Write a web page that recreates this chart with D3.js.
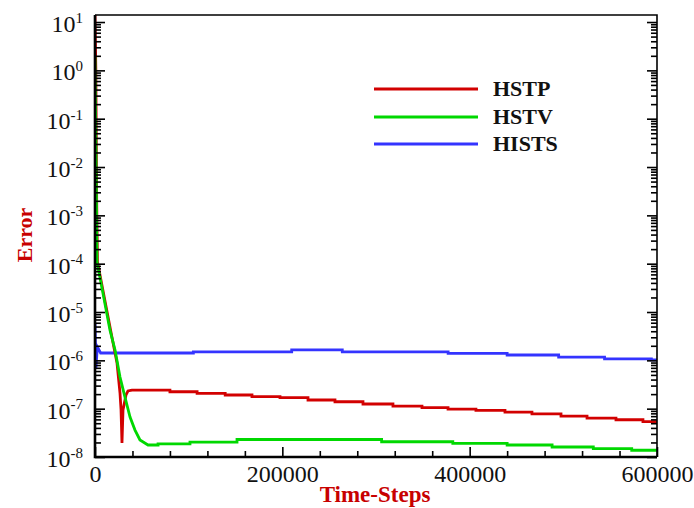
<!DOCTYPE html>
<html lang="en">
<head>
    <meta charset="UTF-8">
    <script src="https://d3js.org/d3.v7.min.js"></script>
    <title>Error vs Time-Steps</title>
    <style>
        body { margin: 0; background: white; }
        svg { display: block; }
        .lbl { font-family: "Liberation Serif", "Times New Roman", serif; }
    </style>
</head>
<body>
    <div id="chart"></div>
    <script>
        // series data: [time-step, error]  (steps kept as pairs)
        const seriesNames = ["HSTP", "HSTV", "HISTS"];
        const seriesColors = ["#d20000", "#00d800", "#3434ff"];

        const hstp = [
            [0, 14], [900, 1], [1800, 2e-3], [2600, 1.1e-4], [18100, 3.0e-6], [23500, 8.8e-7],
            [26700, 2.1e-7], [27800, 9.4e-8], [28800, 1.95e-8], [29900, 9.4e-8], [33100, 1.92e-7],
            [35200, 2.32e-7], [39500, 2.43e-7],
            [80000, 2.43e-7], [80000, 2.24e-7], [109000, 2.24e-7], [109000, 2.08e-7],
            [139000, 2.08e-7], [139000, 1.92e-7], [167600, 1.92e-7], [167600, 1.77e-7],
            [197500, 1.77e-7], [197500, 1.69e-7], [227400, 1.69e-7], [227400, 1.51e-7],
            [256200, 1.51e-7], [256200, 1.39e-7], [286100, 1.39e-7], [286100, 1.25e-7],
            [318100, 1.25e-7], [318100, 1.13e-7], [349100, 1.13e-7], [349100, 1.05e-7],
            [376900, 1.05e-7], [376900, 9.8e-8], [406700, 9.8e-8], [406700, 9.2e-8],
            [437700, 9.2e-8], [437700, 8.5e-8], [466500, 8.5e-8], [466500, 7.8e-8],
            [497500, 7.8e-8], [497500, 7.0e-8], [525300, 7.0e-8], [525300, 6.4e-8],
            [556200, 6.4e-8], [556200, 5.9e-8], [585000, 5.9e-8], [585000, 5.4e-8],
            [600000, 5.4e-8]
        ];

        const hstv = [
            [0, 2], [1200, 1e-2], [2100, 1.1e-4], [16000, 4.2e-6], [21400, 1.64e-6],
            [26700, 4.5e-7], [32000, 1.74e-7], [37400, 6.7e-8], [42700, 3.6e-8],
            [48000, 2.25e-8], [56600, 1.77e-8], [67300, 1.77e-8], [67300, 1.86e-8],
            [101400, 1.86e-8], [101400, 2.04e-8], [151600, 2.04e-8], [151600, 2.3e-8],
            [306000, 2.3e-8], [306000, 2.07e-8], [382000, 2.07e-8], [382000, 1.92e-8],
            [440000, 1.92e-8], [440000, 1.77e-8], [488000, 1.77e-8], [488000, 1.61e-8],
            [532000, 1.61e-8], [532000, 1.49e-8], [573000, 1.49e-8], [573000, 1.38e-8],
            [600000, 1.38e-8]
        ];

        const hists = [
            [0, 5.9e-6], [1000, 7e-7], [2500, 1.9e-6], [6000, 1.42e-6],
            [105000, 1.42e-6], [105000, 1.49e-6], [210000, 1.49e-6], [210000, 1.64e-6],
            [264000, 1.64e-6], [264000, 1.49e-6], [377000, 1.49e-6], [377000, 1.39e-6],
            [440000, 1.39e-6], [440000, 1.29e-6], [495000, 1.29e-6], [495000, 1.17e-6],
            [544000, 1.17e-6], [544000, 1.07e-6], [594000, 1.07e-6], [594000, 1.02e-6],
            [600000, 1.02e-6]
        ];

        const xMajorTicks = [0, 200000, 400000, 600000];
        const xMinorTicks = d3.range(0, 600001, 40000).filter(v => !xMajorTicks.includes(v));
        const yExponents = d3.range(-8, 2);
        const yMajorTicks = yExponents.map(e => Math.pow(10, e));
        const yMinorTicks = [];
        yExponents.forEach(e => {
            for (let k = 2; k <= 9; k++) yMinorTicks.push(k * Math.pow(10, e));
        });

        const width = 694, height = 508;
        const plot = { left: 95, right: 657, top: 15, bottom: 457 };

        const svg = d3.select("#chart").append("svg")
            .attr("width", width)
            .attr("height", height);

        const x = d3.scaleLinear()
            .domain([0, 600000])
            .range([plot.left, plot.right]);

        // 10^1 sits 7px below the top border
        const y = d3.scaleLog()
            .domain([1e-8, 10])
            .range([plot.bottom, plot.bottom - 9 * 48.33]);
        const yTopValue = y.invert(plot.top);
        y.domain([1e-8, yTopValue]).range([plot.bottom, plot.top]);

        const minorY = yMinorTicks.filter(v => v <= yTopValue);

        svg.append("clipPath").attr("id", "clip")
            .append("rect")
            .attr("x", plot.left).attr("y", plot.top)
            .attr("width", plot.right - plot.left)
            .attr("height", plot.bottom - plot.top);

        const line = d3.line()
            .x(d => x(d[0]))
            .y(d => y(d[1]));

        const lines = svg.append("g").attr("clip-path", "url(#clip)");
        [[hists, 2], [hstp, 0], [hstv, 1]].forEach(([data, i]) => {
            lines.append("path")
                .datum(data)
                .attr("d", line)
                .attr("fill", "none")
                .attr("stroke", seriesColors[i])
                .attr("stroke-width", 2.8)
                .attr("stroke-linejoin", "miter");
        });

        // axes, ticks pointing inward
        const styleAxis = g => {
            g.select(".domain").remove();
            g.selectAll("line").attr("stroke", "#000").attr("stroke-width", 1.6);
            g.attr("font-family", "'Liberation Serif', 'Times New Roman', serif")
                .attr("font-size", 24);
            g.selectAll("text").attr("fill", "#111");
        };

        svg.append("g")
            .attr("transform", `translate(0,${plot.bottom})`)
            .call(d3.axisBottom(x).tickValues(xMajorTicks).tickSize(-10).tickSizeOuter(0)
                .tickPadding(8).tickFormat(d3.format("d")))
            .call(styleAxis);

        svg.append("g")
            .attr("transform", `translate(0,${plot.bottom})`)
            .call(d3.axisBottom(x).tickValues(xMinorTicks).tickSize(-6).tickSizeOuter(0).tickFormat(""))
            .call(styleAxis);

        const yLeft = svg.append("g")
            .attr("transform", `translate(${plot.left},0)`)
            .call(d3.axisLeft(y).tickValues(yMajorTicks).tickSize(-10).tickSizeOuter(0).tickPadding(12)
                .tickFormat(""))
            .call(styleAxis);

        yLeft.selectAll(".tick text")
            .attr("dy", "0.4em")
            .each(function (d) {
                const t = d3.select(this);
                t.text("10");
                t.append("tspan")
                    .attr("dy", "-0.62em")
                    .attr("font-size", 15)
                    .text(Math.round(Math.log10(d)));
            });

        svg.append("g")
            .attr("transform", `translate(${plot.left},0)`)
            .call(d3.axisLeft(y).tickValues(minorY).tickSize(-6).tickSizeOuter(0).tickFormat(""))
            .call(styleAxis);

        svg.append("g")
            .attr("transform", `translate(${plot.right},0)`)
            .call(d3.axisRight(y).tickValues(yMajorTicks).tickSize(-10).tickSizeOuter(0).tickFormat(""))
            .call(styleAxis);

        svg.append("g")
            .attr("transform", `translate(${plot.right},0)`)
            .call(d3.axisRight(y).tickValues(minorY).tickSize(-6).tickSizeOuter(0).tickFormat(""))
            .call(styleAxis);

        // frame: heavier left and bottom edges
        svg.append("path")
            .attr("d", `M${plot.left},${plot.top}H${plot.right}V${plot.bottom}`)
            .attr("fill", "none").attr("stroke", "#000").attr("stroke-width", 1.6);
        svg.append("path")
            .attr("d", `M${plot.left},${plot.top}V${plot.bottom}H${plot.right}`)
            .attr("fill", "none").attr("stroke", "#000").attr("stroke-width", 2.6);

        // axis titles
        svg.append("text")
            .attr("class", "lbl")
            .attr("x", 375).attr("y", 502)
            .attr("text-anchor", "middle")
            .attr("font-size", 23).attr("font-weight", "bold")
            .attr("fill", "#c80000")
            .text("Time-Steps");

        svg.append("text")
            .attr("class", "lbl")
            .attr("transform", "translate(32,235) rotate(-90)")
            .attr("text-anchor", "middle")
            .attr("font-size", 22).attr("font-weight", "bold")
            .attr("fill", "#c80000")
            .text("Error");

        // legend
        const legendY = [89, 117, 144];
        const legend = svg.append("g");
        seriesNames.forEach((name, i) => {
            legend.append("line")
                .attr("x1", 374).attr("x2", 478)
                .attr("y1", legendY[i]).attr("y2", legendY[i])
                .attr("stroke", seriesColors[i])
                .attr("stroke-width", 3);
            legend.append("text")
                .attr("class", "lbl")
                .attr("x", 493).attr("y", legendY[i] + 7)
                .attr("font-size", 22).attr("font-weight", "bold")
                .attr("fill", "#111")
                .text(name);
        });
    </script>
</body>
</html>
